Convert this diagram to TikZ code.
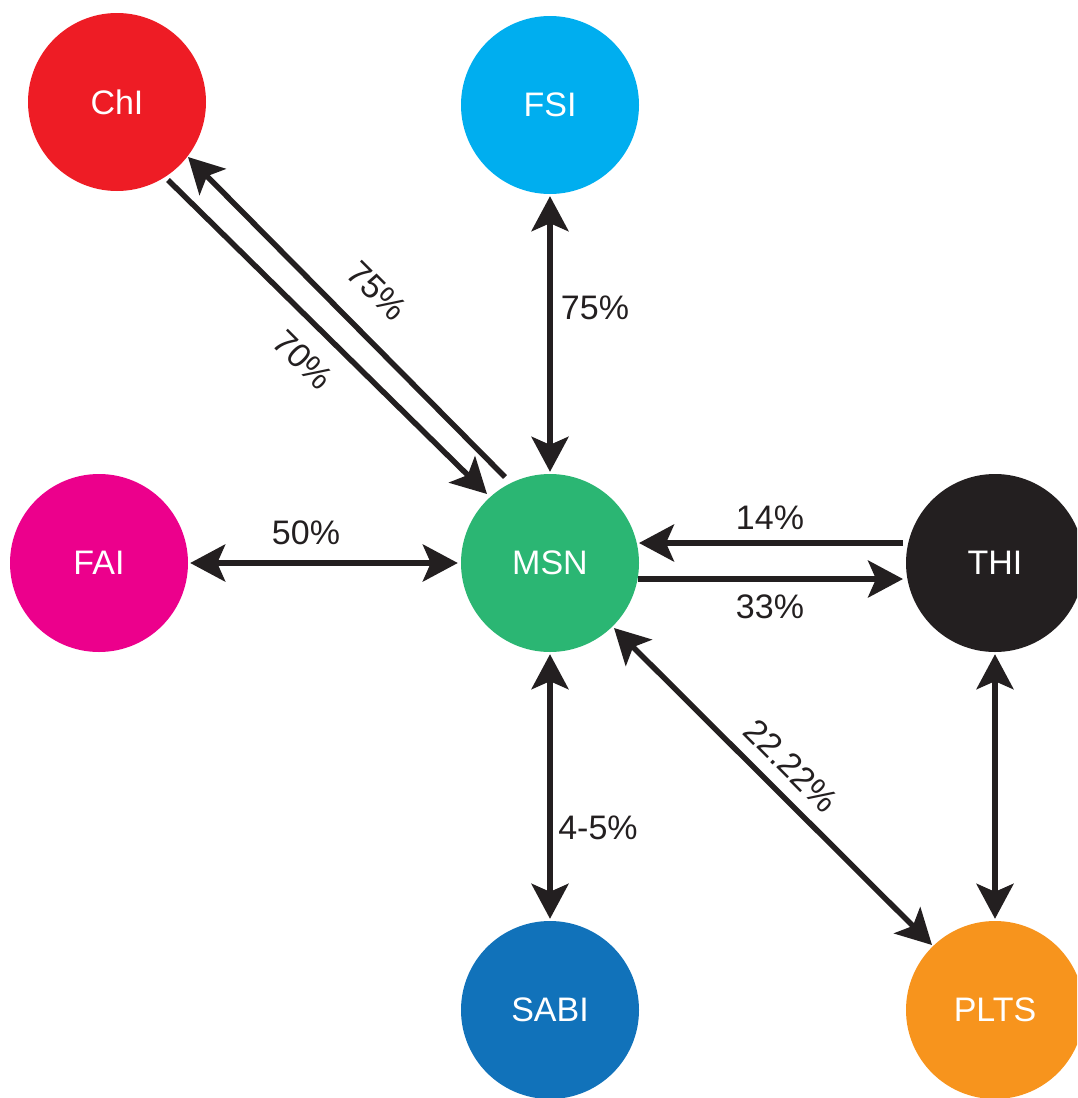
\documentclass[tikz,border=0pt]{standalone}
\usepackage{fontspec}
\setmainfont{Liberation Sans}
\usetikzlibrary{arrows.meta,calc}

\definecolor{ink}{HTML}{231F20}
\definecolor{cRed}{HTML}{EE1C25}
\definecolor{cSky}{HTML}{00AEEF}
\definecolor{cMag}{HTML}{EC008C}
\definecolor{cGreen}{HTML}{2BB673}
\definecolor{cBlue}{HTML}{1172BA}
\definecolor{cOrange}{HTML}{F7941D}

\tikzset{
  tip/.tip={Stealth[length=35pt,width=37pt,inset=8pt]},
  hub/.style={circle, fill=#1, minimum size=178pt, inner sep=0pt,
    text=white, font=\fontsize{34}{40}\selectfont},
  oneway/.style={draw=ink, line width=5.5pt, -tip},
  twoway/.style={draw=ink, line width=5.5pt, tip-tip},
  pct/.style={text=ink, font=\fontsize{34}{40}\selectfont, inner sep=0pt},
}

\begin{document}
\begin{tikzpicture}[x=1pt,y=-1pt]
  \clip (0,0) rectangle (1077,1098);
  \useasboundingbox (0,0) rectangle (1077,1098);

  % nodes
  \node[hub=cRed]    (ChI)  at (117,102)  {ChI};
  \node[hub=cSky]    (FSI)  at (550,105)  {FSI};
  \node[hub=cMag]    (FAI)  at (99,563)   {FAI};
  \node[hub=cGreen]  (MSN)  at (550,563)  {MSN};
  \node[hub=ink]     (THI)  at (995,563)  {THI};
  \node[hub=cBlue]   (SABI) at (550,1010) {SABI};
  \node[hub=cOrange] (PLTS) at (995,1010) {PLTS};

  % ChI <-> MSN, two parallel one-way links
  \draw[oneway] ($(ChI)+(51,78)$) -- ($(MSN)+(-63,-69)$);
  \draw[oneway] ($(MSN)+(-45,-86)$) -- ($(ChI)+(71,55)$);

  % two-way links
  \draw[twoway, shorten <=2pt, shorten >=2pt] (FSI.south) -- (MSN.north);
  \draw[twoway, shorten <=2pt, shorten >=3pt] (FAI.east) -- (MSN.west);
  \draw[twoway, shorten <=2pt, shorten >=2pt] (MSN.south) -- (SABI.north);
  \draw[twoway, shorten <=2pt, shorten >=2pt] (THI.south) -- (PLTS.north);
  \draw[twoway] ($(MSN)+(64,65)$) -- ($(PLTS)+(-63,-65)$);

  % THI <-> MSN, two parallel one-way links
  \draw[oneway] ($(THI)+(-92,-20)$) -- ($(MSN)+(89,-20)$);
  \draw[oneway] ($(MSN)+(88,16)$) -- ($(THI)+(-92,16)$);

  % percentages
  \node[pct, rotate=-45] (l75a) at (377,291) {75\%};
  \node[pct, rotate=-45] (l70)  at (303,360) {70\%};
  \node[pct] (l75b) at (595,308) {75\%};
  \node[pct] (l50)  at (306,533) {50\%};
  \node[pct] (l14)  at (770,518) {14\%};
  \node[pct] (l33)  at (770,607) {33\%};
  \node[pct] (l45)  at (598,828) {4-5\%};
  \node[pct, rotate=-45] (l22) at (791,766) {22.22\%};
\end{tikzpicture}
\end{document}
